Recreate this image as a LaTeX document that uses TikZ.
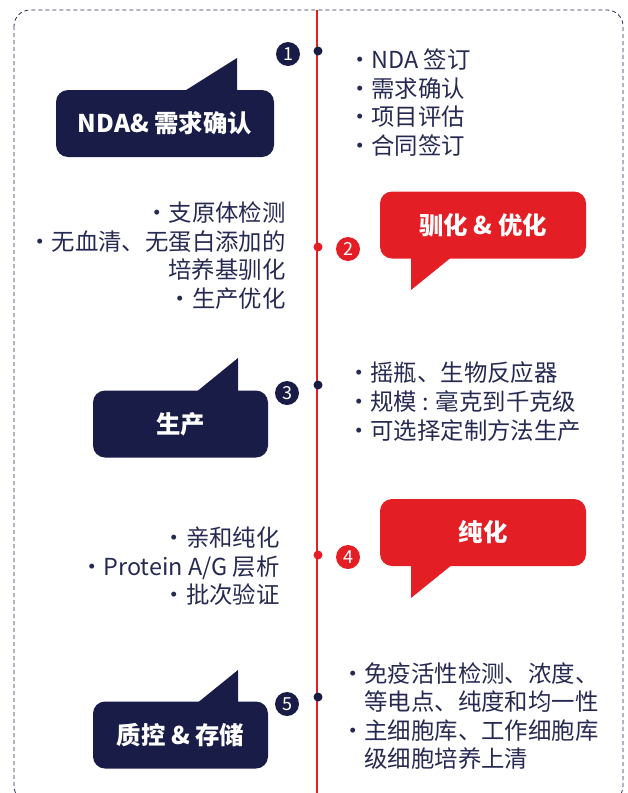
\documentclass[tikz,border=0pt]{standalone}
\usepackage{fontspec}
\setmainfont{Noto Sans CJK SC}
\definecolor{navy}{RGB}{24,28,70}
\definecolor{brandred}{RGB}{227,30,36}
\definecolor{ink}{RGB}{38,42,82}
\newcommand{\bul}{\makebox[7.5pt][l]{\hspace*{1.8pt}\makebox[0pt][c]{·}}}
\newcommand{\ind}{\hspace*{7.5pt}}

\begin{document}
\begin{tikzpicture}[x=0.5pt,y=-0.5pt,
  bubble/.style={rounded corners=6pt, minimum height=33.5pt, text=white,
    font=\fontsize{12.2pt}{14pt}\selectfont\bfseries},
  numdot/.style={circle, inner sep=0pt, minimum size=12pt, text=white,
    font=\fontsize{9pt}{9pt}\selectfont},
  linedot/.style={circle, inner sep=0pt, minimum size=4.5pt},
  items/.style={text=ink, inner sep=0pt,
    font=\fontsize{11.7pt}{14.3pt}\selectfont}]
\useasboundingbox (0,0) rectangle (627,793);

% frame and time line
\draw[ink, dash pattern=on 2pt off 1.5pt, rounded corners=8pt] (14,10) rectangle (623,802);
\coordinate (top) at (317,10);
\coordinate (bottom) at (317,793);
\draw[brandred, line width=0.6pt] (top) -- (bottom);

% Step 1
\node[linedot, fill=navy] (d1) at (318,51) {};
\node[numdot, fill=navy] (n1) at (288,54) {1};
\fill[navy] (183,92) -- (237,58) -- (237,92) -- cycle;
\node[bubble, fill=navy, minimum width=109pt] (b1) at (165,123.5) {NDA\& 需求确认};
\node[items, anchor=west, align=left] (t1) at (356,102.5)
  {\bul NDA 签订\\\bul 需求确认\\\bul 项目评估\\\bul 合同签订};

% Step 2
\node[linedot, fill=brandred] (d2) at (318,247) {};
\node[numdot, fill=brandred] (n2) at (348,249) {2};
\fill[brandred] (411,256) -- (411,290) -- (453,256) -- cycle;
\node[bubble, fill=brandred, minimum width=103pt] (b2) at (483,225) {驯化 \& 优化};
\node[items, anchor=east, align=right] (t2) at (286,255.5)
  {\bul 支原体检测\\\bul 无血清、无蛋白添加的\\培养基驯化\\\bul 生产优化};

% Step 3
\node[linedot, fill=navy] (d3) at (318,385) {};
\node[numdot, fill=navy] (n3) at (287,393) {3};
\fill[navy] (195,393) -- (238,358) -- (238,393) -- cycle;
\node[bubble, fill=navy, minimum width=87.5pt] (b3) at (180.5,424) {生产};
\node[items, anchor=west, align=left] (t3) at (355,401.5)
  {\bul 摇瓶、生物反应器\\\bul 规模 : 毫克到千克级\\\bul 可选择定制方法生产};

% Step 4
\node[linedot, fill=brandred] (d4) at (318,555) {};
\node[numdot, fill=brandred] (n4) at (348,557) {4};
\fill[brandred] (411,564) -- (411,598) -- (453,564) -- cycle;
\node[bubble, fill=brandred, minimum width=103pt] (b4) at (483,532.5) {纯化};
\node[items, anchor=east, align=right] (t4) at (280,566.5)
  {\bul 亲和纯化\\\bul Protein A/G 层析\\\bul 批次验证};

% Step 5
\node[linedot, fill=navy] (d5) at (318,697) {};
\node[numdot, fill=navy] (n5) at (287,704) {5};
\fill[navy] (196,704) -- (238,670) -- (238,704) -- cycle;
\node[bubble, fill=navy, minimum width=87.5pt] (b5) at (180.5,735) {质控 \& 存储};
\node[items, anchor=west, align=left] (t5) at (349,716)
  {\bul 免疫活性检测、浓度、\\\ind 等电点、纯度和均一性\\\bul 主细胞库、工作细胞库\\\ind 级细胞培养上清};
\end{tikzpicture}
\end{document}
